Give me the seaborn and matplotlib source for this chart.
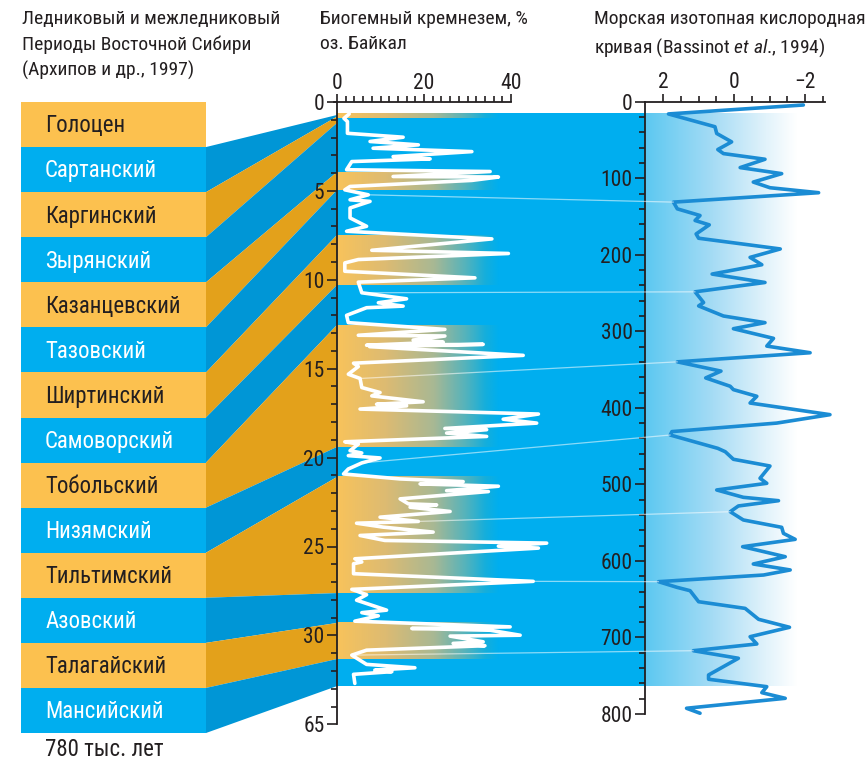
import numpy as np
import pandas as pd
import matplotlib
matplotlib.use("Agg")
import matplotlib.pyplot as plt
import seaborn as sns
from matplotlib import font_manager as fm
from matplotlib.colors import LinearSegmentedColormap
from matplotlib.patches import Polygon, Rectangle, ConnectionPatch
from matplotlib.ticker import FixedLocator

# ------------------------------------------------------------------ data
periods = ["Голоцен", "Сартанский", "Каргинский", "Зырянский", "Казанцевский",
           "Тазовский", "Ширтинский", "Самоворский", "Тобольский", "Низямский",
           "Тильтимский", "Азовский", "Талагайский", "Мансийский"]
period_kind = ["warm", "cold", "warm", "cold", "warm", "cold", "warm",
               "cold", "warm", "cold", "warm", "cold", "warm", "cold"]

# depth (m) on the Baikal core where each connector band ends (top->bottom)
link_depth = [0.73, 0.82, 1.18, 3.94, 4.95, 7.48, 10.29, 12.54, 19.40,
              21.09, 27.62, 29.30, 31.33, 32.85]
core_top = 0.62
warm_top = [0.62, 3.94, 7.48, 12.54, 21.09, 29.30]
warm_bottom = [0.90, 4.95, 10.29, 19.40, 27.62, 31.33]

si_depth = [0.67, 0.92, 1.10, 1.76, 1.98, 2.22, 2.41, 2.60, 2.79, 3.07, 3.20, 3.35,
            3.81, 3.91, 4.19, 4.22, 4.41, 4.75, 4.94, 5.22, 5.50, 5.59, 5.96, 6.52,
            6.99, 7.27, 7.70, 8.34, 8.52, 8.86, 9.05, 9.52, 9.89, 10.13, 10.73, 11.07,
            11.29, 11.48, 11.57, 12.00, 12.41, 12.79, 13.12, 13.16, 13.39, 13.50, 13.68,
            13.63, 13.76, 14.25, 14.69, 14.88, 15.31, 15.55, 16.06, 16.34, 16.53, 16.86,
            17.00, 17.09, 17.27, 17.55, 17.84, 18.06, 18.36, 18.43, 18.62, 18.81, 19.11,
            19.24, 19.61, 19.74, 19.89, 20.02, 20.30, 20.64, 20.92, 21.20, 21.35, 21.48,
            21.61, 21.86, 21.91, 22.32, 22.60, 22.66, 22.79, 23.03, 23.35, 23.59, 23.69,
            23.91, 24.19, 24.38, 24.66, 24.81, 24.98, 25.09, 25.69, 25.87, 25.97, 26.53,
            26.96, 27.41, 27.71, 28.02, 28.58, 28.72, 28.90, 29.20, 29.52, 29.61, 29.71,
            29.99, 30.04, 30.36, 30.45, 30.58, 30.83, 31.11, 31.63, 31.82, 31.95, 32.04,
            32.19, 32.70]
si_value = [2.8, 1.6, 2.4, 2.4, 15.2, 7.6, 18.7, 8.3, 31.0, 12.9, 21.4, 3.4,
            2.2, 35.2, 12.9, 37.1, 31.0, 3.0, 1.8, 7.2, 3.0, 7.6, 3.0, 3.0,
            6.8, 2.2, 35.6, 8.0, 39.4, 4.9, 1.8, 1.8, 31.7, 4.9, 5.7, 16.0,
            9.5, 15.2, 6.8, 2.2, 2.6, 24.8, 4.9, 24.8, 17.5, 24.4, 6.8,
            33.6, 7.5, 42.8, 3.8, 4.9, 2.6, 5.3, 5.7, 9.9, 8.0, 19.8,
            9.1, 16.0, 5.3, 46.3, 38.2, 45.9, 24.8, 34.4, 25.2, 34.4, 1.8,
            4.9, 3.0, 5.7, 2.6, 9.9, 5.7, 2.6, 1.5, 14.5, 29.0, 19.1,
            37.1, 25.2, 34.8, 14.5, 16.4, 22.9, 16.8, 26.0, 9.9, 18.7, 4.5,
            10.6, 22.1, 5.3, 11.0, 48.2, 37.1, 46.3, 4.1, 5.7, 3.8, 3.8,
            45.1, 3.4, 6.8, 4.5, 11.4, 5.7, 9.5, 4.1, 39.8, 17.2, 35.2,
            42.1, 26.0, 33.6, 26.7, 34.0, 6.8, 3.4, 6.8, 17.9, 8.7, 12.6,
            3.8, 4.1]

iso_age = [4.3, 16, 32.7, 41.5, 52.5, 62.5, 67.8, 75.2, 86.1, 94, 105, 112.4, 118.9,
           131.2, 140, 148.7, 155.2, 160.9, 172.8, 178.4, 192.4, 203.4, 213, 225.2,
           236.2, 248.4, 262.4, 266.8, 280, 288.7, 296.6, 309.2, 319.3, 328, 339.9,
           352, 360.9, 371.8, 376.2, 384.9, 393.7, 408.9, 419.9, 431, 435.5, 452.9,
           457.3, 467.2, 476, 492, 498.6, 507.3, 516.9, 521.3, 528.2, 535.7, 546.5,
           556.1, 564, 571.8, 581.4, 594.5, 604, 611.8, 618.4, 627.1, 634.5, 638.9,
           653.3, 662, 676.3, 686.7, 699, 708.5, 717.3, 727.2, 749, 754.6, 764.3,
           772.1, 779.5, 792.5, 799]
iso_value = [-1.95, 1.85, 0.54, 0.49, 0.07, 0.46, 0.30, -0.87, -0.17, -1.34, -0.54, -1.01, -2.38,
             1.71, 1.60, 0.96, 1.10, 0.70, 1.07, 1.00, -1.30, -0.45, -0.78, 0.62,
             -0.87, 1.10, 0.86, 1.00, 0.30, -0.87, 0.02, -1.11, -0.92, -2.14, 1.60,
             0.37, 0.80, 0.11, 0.02, -0.64, -0.45, -2.70, -1.20, 1.75, 1.80, 0.46,
             0.25, 0.02, -1.01, -0.73, -0.92, 0.49, -0.26, -1.25, -0.12, 0.11, -0.26,
             -1.34, -1.39, -1.72, -0.24, -1.44, -0.54, -1.58, -0.83, 2.13, 1.61, 1.24,
             1.00, -0.31, -0.69, -1.56, -0.45, -0.64, 1.15, -0.12, 0.72, 0.72, -0.92,
             -0.78, -1.44, 1.34, 0.96]

# correlation tie lines: silica point -> isotope point
tie_si_depth = [5.22, 10.73, 15.55, 20.30, 23.59, 26.96, 31.11]
tie_si_value = [7.2, 5.7, 5.3, 5.7, 18.7, 45.1, 3.4]
tie_iso_age = [131.2, 248.4, 339.9, 435.5, 535.7, 627.1, 717.3]
tie_iso_value = [1.71, 1.10, 1.60, 1.80, 0.11, 2.13, 1.15]

si_yticks = [0, 5, 10, 15, 20, 25, 30, 35]
si_yticklabels = ["0", "5", "10", "15", "20", "25", "30", "65"]
si_xticks = [0, 20, 40]
iso_xticks = [2, 0, -2]
iso_xticklabels = ["2", "0", "\u22122"]
iso_yticks = [0, 100, 200, 300, 400, 500, 600, 700, 800]

# ------------------------------------------------------------------ style
sns.set_theme(style="white")
names = {f.name for f in fm.fontManager.ttflist}
FONT = "Roboto"
for cand in ["Liberation Sans Narrow", "Roboto Condensed", "Roboto"]:
    if cand in names:
        FONT = cand
        break
NARROW = FONT != "Roboto"
plt.rcParams["font.family"] = [FONT, "DejaVu Sans"]
plt.rcParams["mathtext.fontset"] = "custom"
plt.rcParams["mathtext.rm"] = FONT
plt.rcParams["mathtext.it"] = FONT + ":italic"

FS_TITLE = 14 if NARROW else 12.6
FS_BOX = 16.5 if NARROW else 14.3
FS_TICK = 15.5 if NARROW else 15

TXT = "#231F20"
BOX_WARM, BOX_COLD = "#FCC14F", "#00AEEF"
LINK_WARM, LINK_COLD = "#E3A11B", "#0096D6"
BG_BLUE = "#00AEEF"

W, H = 865, 761
fig = plt.figure(figsize=(W / 100, H / 100), dpi=100)
fig.patch.set_facecolor("white")


def px_axes(x0, y0, x1, y1, **kw):
    return fig.add_axes([x0 / W, 1 - y1 / H, (x1 - x0) / W, (y1 - y0) / H], **kw)


# ------------------------------------------------------------------ boxes
ax_box = px_axes(21, 102, 206, 733, zorder=1)
df_box = pd.DataFrame({"period": periods, "kind": period_kind, "span": [1] * len(periods)})
sns.barplot(data=df_box, x="span", y="period", hue="kind", orient="h",
            palette={"warm": BOX_WARM, "cold": BOX_COLD}, width=1, dodge=False,
            saturation=1, linewidth=0, legend=False, ax=ax_box)
ax_box.set_xlim(0, 1)
ax_box.set_ylim(len(periods) - 0.5, -0.5)
ax_box.axis("off")
ax_box.patch.set_alpha(0)
for i, (name, kind) in enumerate(zip(periods, period_kind)):
    ax_box.text(0.13, i + 0.03, name, va="center", ha="left", fontsize=FS_BOX,
                color=TXT if kind == "warm" else "white")

# ------------------------------------------------------------------ silica panel
SI_PX = 17.78
SI_XMAX = (645 - 337) / 4.35
ax_si = px_axes(337, 102, 645, 102 + 35 * SI_PX, zorder=1)
ax_si.patch.set_alpha(0)
ax_si.set_xlim(0, SI_XMAX)
ax_si.set_ylim(35, 0)

ax_si.add_patch(Rectangle((0, core_top), SI_XMAX, link_depth[-1] - core_top,
                          facecolor=BG_BLUE, edgecolor="none", zorder=0.5))
warm_cmap = LinearSegmentedColormap.from_list(
    "warm", [(0, "#F8C35B"), (0.3, "#DDBB72"), (0.6, "#A8B894"), (0.8, "#52B3BD"),
             (0.92, "#14AEDC"), (1, BG_BLUE)])
grad = np.linspace(0, 1, 256)[None, :]
for d0, d1 in zip(warm_top, warm_bottom):
    ax_si.imshow(grad, cmap=warm_cmap, extent=(0, 37.2, d1, d0), aspect="auto",
                 interpolation="bilinear", zorder=0.6)
ax_si.set_xlim(0, SI_XMAX)
ax_si.set_ylim(35, 0)

sns.lineplot(x=si_value, y=si_depth, sort=False, estimator=None, color="white",
             linewidth=2.6, ax=ax_si, zorder=3)
ax_si.set_xlabel("")
ax_si.set_ylabel("")

for s in ["right", "bottom"]:
    ax_si.spines[s].set_visible(False)
for s in ["left", "top"]:
    ax_si.spines[s].set_visible(True)
    ax_si.spines[s].set_color(TXT)
    ax_si.spines[s].set_linewidth(1.3)
    ax_si.spines[s].set_zorder(4)
ax_si.spines["top"].set_bounds(-0.8, 40)
ax_si.xaxis.tick_top()
ax_si.set_xticks(si_xticks)
ax_si.set_xticklabels([str(v) for v in si_xticks])
ax_si.xaxis.set_minor_locator(FixedLocator(np.arange(0, 41, 2)))
ax_si.set_yticks(si_yticks)
ax_si.set_yticklabels(si_yticklabels)
ax_si.yaxis.set_minor_locator(FixedLocator(np.arange(0, 36, 1)))
ax_si.tick_params(axis="both", which="both", direction="out", color=TXT,
                  labelcolor=TXT, labelsize=FS_TICK, width=1.2)
ax_si.tick_params(axis="y", which="major", length=7, pad=2, left=True)
ax_si.tick_params(axis="y", which="minor", length=4.5, left=True)
ax_si.tick_params(axis="x", which="major", length=6, pad=0, top=True, bottom=False)
ax_si.tick_params(axis="x", which="minor", length=4, top=True, bottom=False)

# ------------------------------------------------------------------ isotope panel
ax_iso = px_axes(645, 101.7, 825, 714, zorder=1)
ax_iso.patch.set_alpha(0)
ax_iso.set_xlim(2.51, -2.56)
ax_iso.set_ylim(800, 0)
iso_cmap = LinearSegmentedColormap.from_list(
    "iso", [(0, "#5CC8F1"), (0.45, "#A6DCF5"), (0.8, "#E2F3FB"), (1, "#FFFFFF")])
ax_iso.imshow(grad, cmap=iso_cmap, extent=(2.51, -1.75, 763.4, 14.8), aspect="auto",
              interpolation="bilinear", zorder=0.5)
ax_iso.set_xlim(2.51, -2.56)
ax_iso.set_ylim(800, 0)
sns.lineplot(x=iso_value, y=iso_age, sort=False, estimator=None, color="#1B8CD4",
             linewidth=2.6, ax=ax_iso, zorder=3)
for ln in ax_iso.lines:
    ln.set_clip_on(False)
ax_iso.set_xlabel("")
ax_iso.set_ylabel("")
for s in ["right", "bottom"]:
    ax_iso.spines[s].set_visible(False)
for s in ["left", "top"]:
    ax_iso.spines[s].set_visible(True)
    ax_iso.spines[s].set_color(TXT)
    ax_iso.spines[s].set_linewidth(1.3)
    ax_iso.spines[s].set_zorder(4)
ax_iso.xaxis.tick_top()
ax_iso.set_xticks(iso_xticks)
ax_iso.set_xticklabels(iso_xticklabels)
ax_iso.xaxis.set_minor_locator(FixedLocator([1.5, 1, 0.5, -0.5, -1, -1.5, -2.5]))
ax_iso.set_yticks(iso_yticks)
ax_iso.set_yticklabels([str(v) for v in iso_yticks])
ax_iso.yaxis.set_minor_locator(FixedLocator(np.arange(0, 801, 20)))
ax_iso.tick_params(axis="both", which="both", direction="out", color=TXT,
                   labelcolor=TXT, labelsize=FS_TICK, width=1.2)
ax_iso.tick_params(axis="y", which="major", length=7, pad=2, left=True)
ax_iso.tick_params(axis="y", which="minor", length=4.5, left=True)
ax_iso.tick_params(axis="x", which="major", length=6, pad=0, top=True, bottom=False)
ax_iso.tick_params(axis="x", which="minor", length=4, top=True, bottom=False)

# ------------------------------------------------------------------ connectors
inv = fig.transFigure.inverted()


def to_fig(ax, x, y):
    return inv.transform(ax.transData.transform((x, y)))


for i in range(1, len(periods)):
    kind = period_kind[i]
    pts = [to_fig(ax_box, 1, i - 0.5), to_fig(ax_si, 0, link_depth[i - 1]),
           to_fig(ax_si, 0, link_depth[i]), to_fig(ax_box, 1, i + 0.5)]
    fig.add_artist(Polygon(pts, closed=True, transform=fig.transFigure,
                           facecolor=LINK_WARM if kind == "warm" else LINK_COLD,
                           edgecolor="none", zorder=0.5))

# tie lines
for sd, sv, ia, iv in zip(tie_si_depth, tie_si_value, tie_iso_age, tie_iso_value):
    cp = ConnectionPatch(xyA=(sv, sd), coordsA=ax_si.transData,
                         xyB=(iv, ia), coordsB=ax_iso.transData,
                         color="white", alpha=0.55, linewidth=0.9, zorder=2)
    fig.add_artist(cp)

# ------------------------------------------------------------------ titles
tkw = dict(fontsize=FS_TITLE, color=TXT, va="top", ha="left", linespacing=1.5)
fig.text(22 / W, 1 - 10 / H, "Ледниковый и межледниковый\nПериоды Восточной Сибири\n(Архипов и др., 1997)", **tkw)
fig.text(320 / W, 1 - 10 / H, "Биогемный кремнезем, %\nоз. Байкал", **tkw)
fig.text(594 / W, 1 - 10 / H, "Морская изотопная кислородная\nкривая (Bassinot $\\mathit{et\\ al}$., 1994)", **tkw)
fig.text(45 / W, 1 - 750 / H, "780 тыс. лет", fontsize=FS_BOX, color=TXT, va="center", ha="left")

fig.savefig("out.png", dpi=100)
